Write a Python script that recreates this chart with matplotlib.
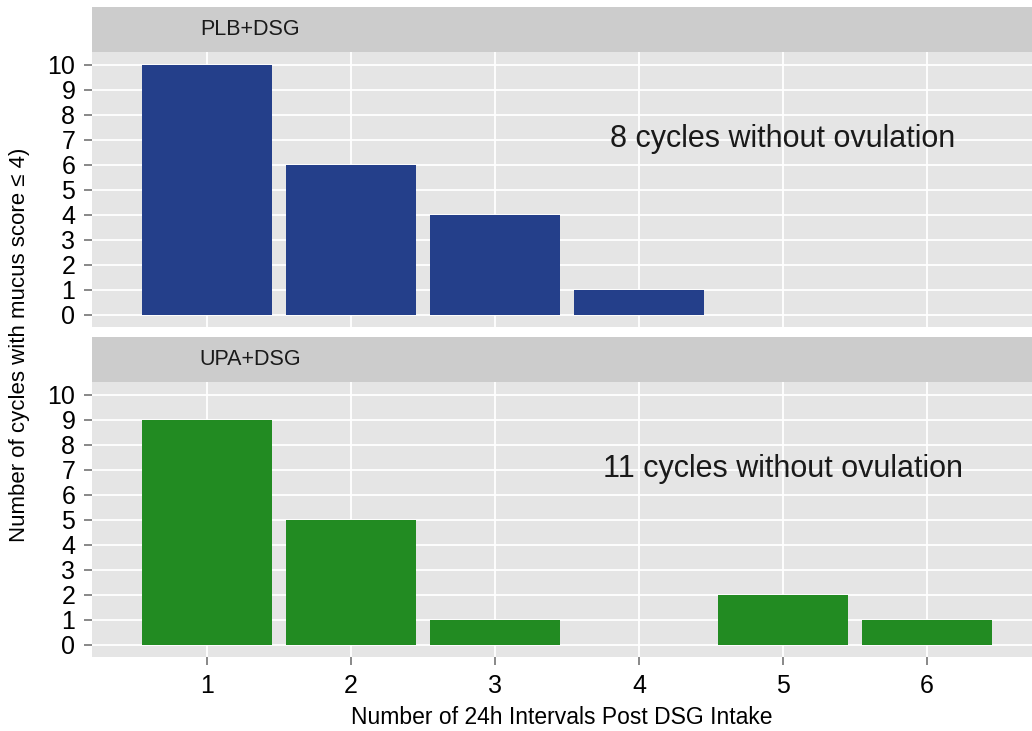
import numpy as np
import matplotlib
matplotlib.use("Agg")
import matplotlib.pyplot as plt

plt.rcParams['font.family'] = ['Liberation Sans', 'DejaVu Sans']

# data
intervals = [1, 2, 3, 4, 5, 6]
plb_counts = [10, 6, 4, 1, 0, 0]
upa_counts = [9, 5, 1, 0, 2, 1]
panel_names = ["PLB+DSG", "UPA+DSG"]
notes = ["8 cycles without ovulation", "11 cycles without ovulation"]
colors = ["#243F8A", "#228B22"]
yticks = list(range(0, 11))

W, H = 1032, 731
fig = plt.figure(figsize=(W / 100, H / 100), dpi=100)

def px(l, t, r, b):
    # pixel box -> figure fraction
    return [l / W, 1 - b / H, (r - l) / W, (b - t) / H]

# (strip top, panel top, panel bottom)
layout = [(7, 52, 327), (337, 382, 657)]
left, right = 92, 1032

for i, (counts, name, note, col) in enumerate(zip([plb_counts, upa_counts], panel_names, notes, colors)):
    st, pt, pb = layout[i]
    # strip
    sax = fig.add_axes(px(left, st, right, pt))
    sax.set_facecolor("#CCCCCC")
    sax.set_xticks([]); sax.set_yticks([])
    for s in sax.spines.values():
        s.set_visible(False)
    sax.text(0.168, 0.5, name, ha="center", va="center", fontsize=15.5, color="#1a1a1a")

    ax = fig.add_axes(px(left, pt, right, pb))
    ax.set_facecolor("#E5E5E5")
    ax.set_axisbelow(True)
    ax.grid(True, color="white", linewidth=1.3)
    ax.bar(intervals, counts, width=0.9, color=col, zorder=2)
    ax.set_xlim(0.2, 6.73)
    ax.set_ylim(-0.5, 10.5)
    ax.set_yticks(yticks)
    ax.set_xticks(intervals)
    for s in ax.spines.values():
        s.set_visible(False)
    ax.tick_params(axis="y", length=6, width=1.3, color="#7F7F7F", labelsize=18, pad=6)
    ax.tick_params(axis="x", length=6, width=1.3, color="#7F7F7F", labelsize=18, pad=6)
    if i == 0:
        ax.tick_params(axis="x", length=0, labelbottom=False)
    ax.text(5, 7, note, ha="center", va="center", fontsize=22, color="#1a1a1a")
    if i == 1:
        ax.set_xlabel("Number of 24h Intervals Post DSG Intake", fontsize=16.5, labelpad=6)

fig.text(20 / W, 1 - 345 / H, "Number of cycles with mucus score \u2264 4)",
         rotation=90, ha="center", va="center", fontsize=16)

fig.savefig("out.png", dpi=100)
